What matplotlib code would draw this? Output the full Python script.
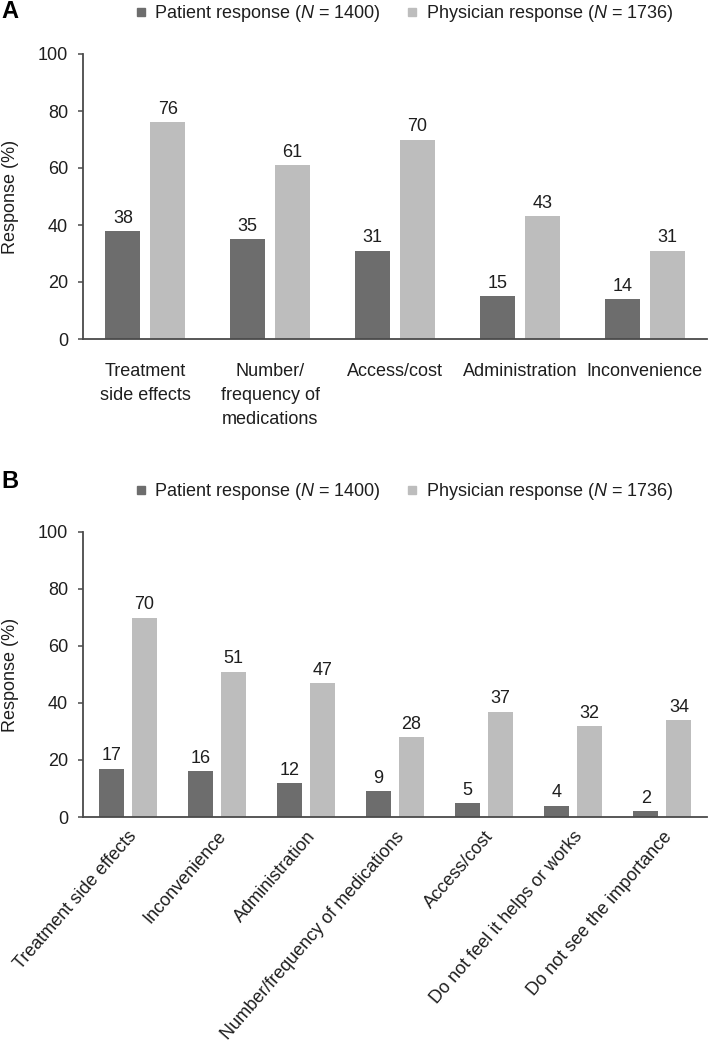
import matplotlib
matplotlib.use("Agg")
import matplotlib.pyplot as plt
import numpy as np
from matplotlib.lines import Line2D

plt.rcParams['font.family'] = ['Liberation Sans', 'DejaVu Sans']
plt.rcParams['mathtext.fontset'] = 'custom'
plt.rcParams['mathtext.it'] = 'Liberation Sans:italic'
plt.rcParams['mathtext.rm'] = 'Liberation Sans'

# Data
cats_a = ["Treatment\nside effects", "Number/\nfrequency of\nmedications",
          "Access/cost", "Administration", "Inconvenience"]
patient_a = [38, 35, 31, 15, 14]
physician_a = [76, 61, 70, 43, 31]

cats_b = ["Treatment side effects", "Inconvenience", "Administration",
          "Number/frequency of medications", "Access/cost",
          "Do not feel it helps or works", "Do not see the importance"]
patient_b = [17, 16, 12, 9, 5, 4, 2]
physician_b = [70, 51, 47, 28, 37, 32, 34]

label_patient = r"Patient response ($N$ = 1400)"
label_physician = r"Physician response ($N$ = 1736)"
yticks = [0, 20, 40, 60, 80, 100]

C_PAT = "#6d6d6d"
C_PHY = "#bdbdbd"
AX_C = "#4a4a4a"
TXT = "#1e1e1e"
FS = 13

W, H = 709, 1046
fig = plt.figure(figsize=(W / 100, H / 100), dpi=100)

def style_axes(ax):
    for s in ["top", "right"]:
        ax.spines[s].set_visible(False)
    for s in ["left", "bottom"]:
        ax.spines[s].set_color(AX_C)
        ax.spines[s].set_linewidth(1.3)
    ax.set_ylim(0, 100)
    ax.set_yticks(yticks)
    ax.tick_params(axis="y", length=3.8, width=1.1, color=AX_C, pad=7, labelsize=FS, labelcolor=TXT)
    ax.tick_params(axis="x", length=0, labelsize=FS, labelcolor=TXT)
    ax.set_ylabel("Response (%)", fontsize=FS, color=TXT)
    ax.yaxis.set_label_coords(-64 / 624, 0.5)

def draw(ax, cats, pat, phy, bw, off):
    x = np.arange(len(cats))
    b1 = ax.bar(x - off, pat, bw, color=C_PAT)
    b2 = ax.bar(x + off, phy, bw, color=C_PHY)
    ax.bar_label(b1, padding=3, fontsize=FS, color=TXT)
    ax.bar_label(b2, padding=3, fontsize=FS, color=TXT)
    ax.set_xlim(-0.5, len(cats) - 0.5)
    ax.set_xticks(x)
    handles = [Line2D([], [], marker="s", ls="", color=C_PAT, markersize=6),
               Line2D([], [], marker="s", ls="", color=C_PHY, markersize=6)]
    ax.legend(handles, [label_patient, label_physician], loc="center",
              bbox_to_anchor=(0.515, 1 + 40 / 285), ncol=2, frameon=False,
              fontsize=FS, handlelength=0.6, handletextpad=0.45,
              columnspacing=1.45, borderaxespad=0, labelcolor=TXT)
    return x

left = 83 / W
width = 624 / W
axA = fig.add_axes([left, 1 - 339 / H, width, 285 / H])
style_axes(axA)
draw(axA, cats_a, patient_a, physician_a, 0.28, 0.18)
axA.set_xticklabels(cats_a, linespacing=1.55)
axA.tick_params(axis="x", pad=17)

axB = fig.add_axes([left, 1 - 817 / H, width, 285 / H])
style_axes(axB)
draw(axB, cats_b, patient_b, physician_b, 0.28, 0.185)
axB.set_xticklabels(cats_b, rotation=49, ha="right", rotation_mode="anchor", fontsize=FS)
axB.tick_params(axis="x", pad=8)

fig.text(1 / W, 1 - 12 / H, "A", fontsize=17, fontweight="bold", va="center", ha="left")
fig.text(1 / W, 1 - 482 / H, "B", fontsize=17, fontweight="bold", va="center", ha="left")

fig.savefig("out.png", dpi=100)
